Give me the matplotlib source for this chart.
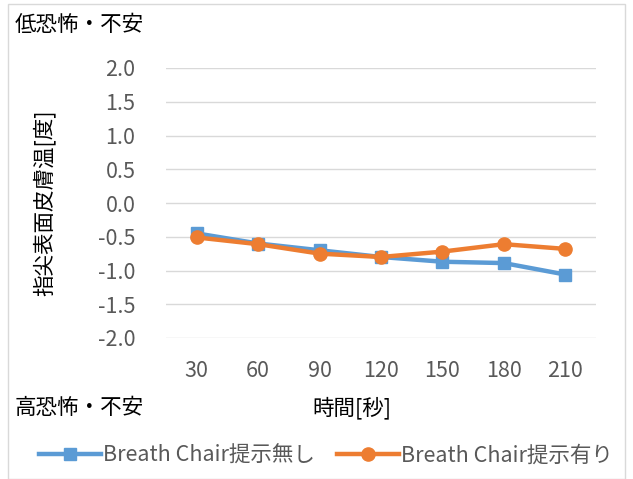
import matplotlib.pyplot as plt
from matplotlib.patches import Rectangle

plt.rcParams['font.family'] = ['Noto Sans CJK JP', 'DejaVu Sans']

# data
times = ['30', '60', '90', '120', '150', '180', '210']
without_chair = [-0.45, -0.60, -0.70, -0.80, -0.87, -0.89, -1.06]
with_chair = [-0.51, -0.61, -0.75, -0.80, -0.72, -0.61, -0.68]
yticks = [2.0, 1.5, 1.0, 0.5, 0.0, -0.5, -1.0, -1.5, -2.0]

blue = '#5B9BD5'
orange = '#ED7D31'
gray = '#595959'
fs = 15.5

fig = plt.figure(figsize=(6.33, 4.79), dpi=100)
ax = fig.add_axes([166/633, 1 - 338/479, 430/633, 270/479])

x = range(len(times))
ax.plot(x, without_chair, color=blue, lw=3.2, marker='s', ms=9,
        label='Breath Chair提示無し')
ax.plot(x, with_chair, color=orange, lw=3.2, marker='o', ms=9.5,
        label='Breath Chair提示有り')

ax.set_xlim(-0.5, len(times) - 0.5)
ax.set_ylim(-2.0, 2.0)
ax.set_yticks(yticks)
ax.set_yticklabels([f'{v:.1f}' for v in yticks])
ax.set_xticks(list(x))
ax.set_xticklabels(times)
ax.grid(axis='y', color='#D9D9D9', lw=1)
ax.set_axisbelow(True)
for s in ax.spines.values():
    s.set_visible(False)
ax.tick_params(length=0, labelsize=fs, labelcolor=gray)
ax.tick_params(axis='y', pad=22)
ax.tick_params(axis='x', pad=16)

ax.set_ylabel('指尖表面皮膚温[度]', fontsize=fs, color='black')
ax.yaxis.set_label_coords((56 - 166) / 430, 0.5)

fig.text(15/633, 1 - 25/479, '低恐怖・不安', fontsize=fs, va='center')
fig.text(15/633, 1 - 408/479, '高恐怖・不安', fontsize=fs, va='center')
fig.text(352/633, 1 - 408/479, '時間[秒]', fontsize=fs, va='center', ha='center')

fig.legend(loc='center', bbox_to_anchor=(326/633, 1 - 456/479), ncol=2,
           frameon=False, fontsize=fs, labelcolor=gray, handlelength=2.9,
           handletextpad=0.1, columnspacing=1.0)

fig.patches.append(Rectangle((8/633, 0.0), 1 - 16/633, 1 - 4/479,
                             transform=fig.transFigure, fill=False,
                             edgecolor='#D9D9D9', lw=1))

fig.savefig('out.png', dpi=100)
